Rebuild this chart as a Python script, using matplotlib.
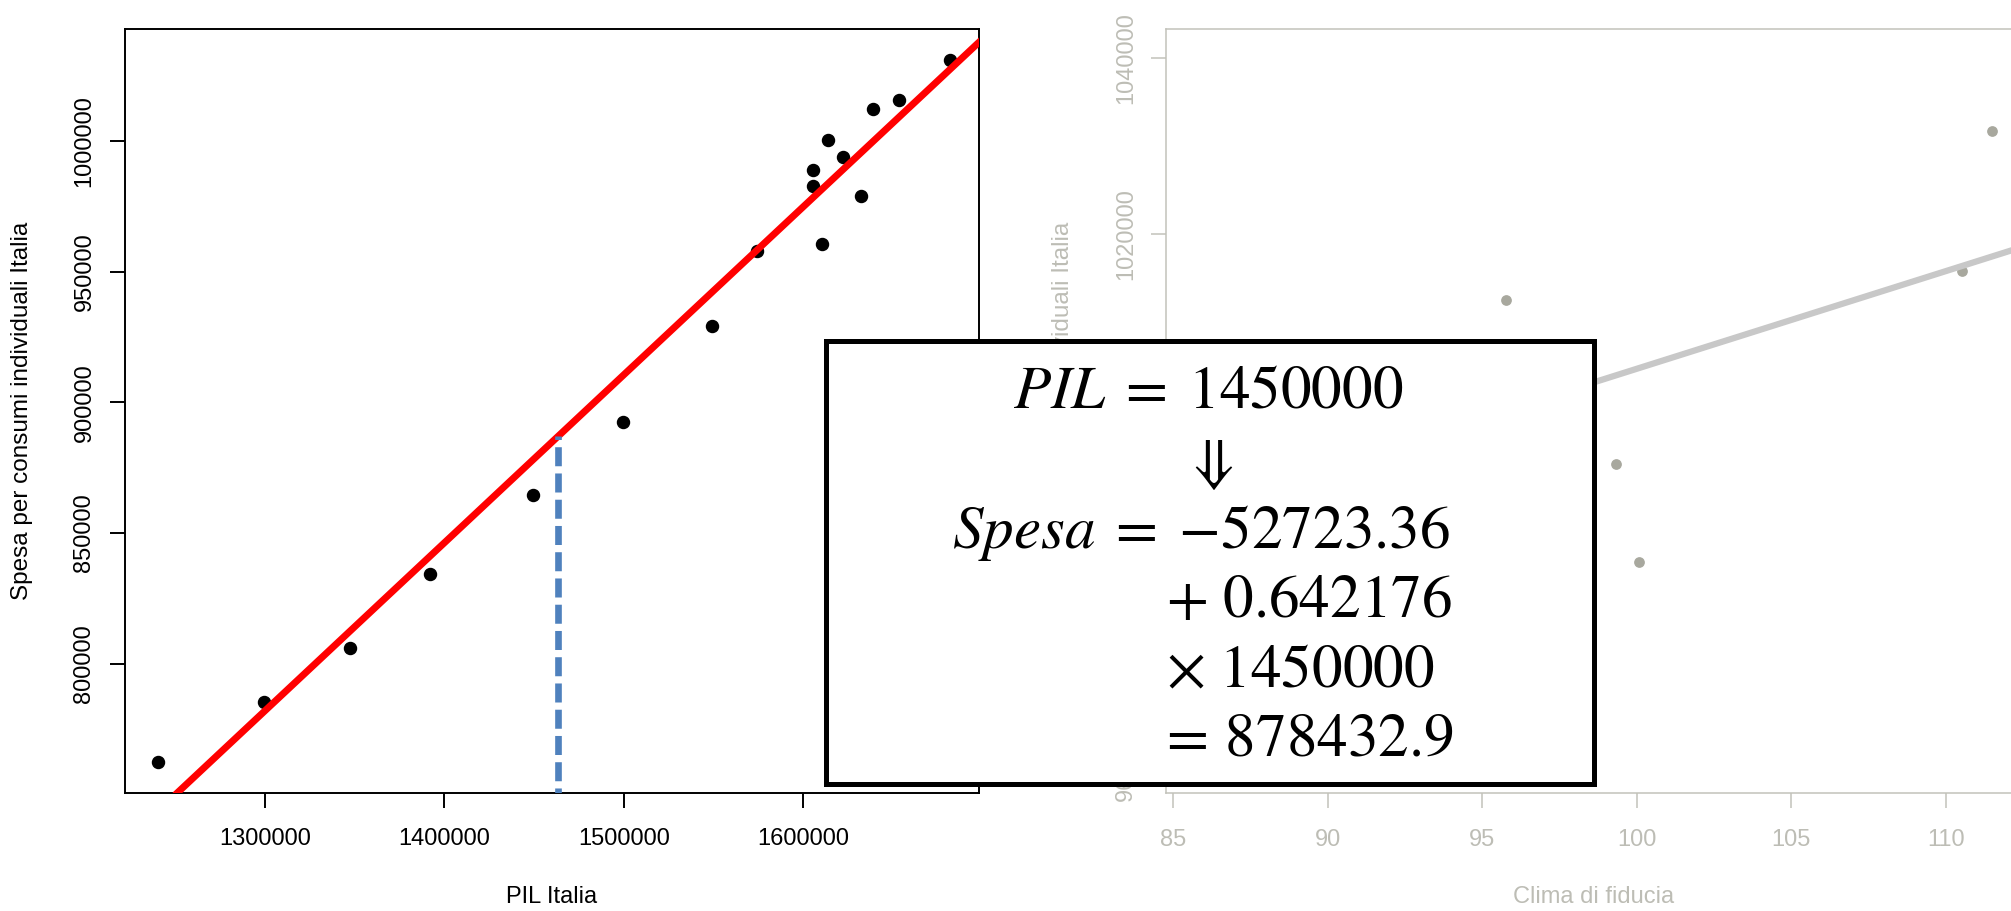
import matplotlib
matplotlib.use('Agg')
import matplotlib.pyplot as plt
from matplotlib.patches import Rectangle

# DATA
pil_italia = [1240633, 1299645, 1347280, 1392073, 1449307, 1499431, 1549200,
              1574084, 1605368, 1605368, 1610345, 1613544, 1622076, 1632385,
              1638784, 1653359, 1681799]
spesa_italia = [762348, 785382, 806202, 834330, 864452, 892359, 929347,
                957697, 988704, 982724, 960576, 1000443, 993798, 978738,
                1012182, 1015504, 1031008]

# regression from the box
intercept = -52723.36
slope = 0.642176
pil_value = 1450000
spesa_pred = 878432.9
dashed_x = 1463500   # where the blue marker is actually drawn

# faded chart behind (clima di fiducia)
clima = [95.77, 99.31, 100.06, 110.54, 111.51]
spesa_clima = [1012517, 993841, 982715, 1015828, 1031656]
clima_intercept = 893726
clima_slope = 1109.6

x_ticks_left = [1300000, 1400000, 1500000, 1600000]
y_ticks_left = [800000, 850000, 900000, 950000, 1000000]
x_ticks_right = [85, 90, 95, 100, 105, 110]
y_ticks_right = [960000, 980000, 1000000, 1020000, 1040000]

W, H = 2011, 911
plt.rcParams['font.family'] = ['Liberation Sans', 'DejaVu Sans']
plt.rcParams['mathtext.fontset'] = 'stix'
plt.rcParams['lines.scale_dashes'] = False

fig = plt.figure(figsize=(W / 100, H / 100), dpi=100)
fig.patch.set_facecolor('white')


def px_box(left, top, right, bottom):
    return [left / W, 1 - bottom / H, (right - left) / W, (bottom - top) / H]


def r_style(ax, color, lw):
    for s in ax.spines.values():
        s.set_color(color)
        s.set_linewidth(lw)
    ax.tick_params(direction='out', length=10.6, width=lw, color=color,
                   labelcolor=color, labelsize=17)
    ax.tick_params(axis='x', pad=15)
    ax.tick_params(axis='y', pad=10.5, labelrotation=90)
    for lab in ax.get_yticklabels():
        lab.set_va('center')


# LEFT: PIL vs SPESA
ax1 = fig.add_axes(px_box(124.7, 29.3, 979.3, 792.7))
ax1.scatter(pil_italia, spesa_italia, s=75, color='black', zorder=2)
ax1.axline((0, intercept), slope=slope, color='#ff0000', lw=5, zorder=3)
ax1.plot([dashed_x, dashed_x], [700000, intercept + slope * dashed_x],
         color='#4f81bd', lw=4.8, dashes=(13.7, 5.2), zorder=4,
         solid_capstyle='butt', dash_capstyle='butt')
ax1.set_xlim(1221795, 1698105)
ax1.set_ylim(750765, 1042584)
ax1.set_xticks(x_ticks_left)
ax1.set_yticks(y_ticks_left)
ax1.set_xticklabels([str(v) for v in x_ticks_left])
ax1.set_yticklabels([str(v) for v in y_ticks_left])
r_style(ax1, 'black', 1.4)
ax1.set_xlabel('PIL Italia', fontsize=17)
ax1.set_ylabel('Spesa per consumi individuali Italia', fontsize=17.5)
ax1.xaxis.set_label_coords(0.5, -(886 - 792.7) / 763.4)
ax1.yaxis.set_label_coords(-(124.7 - 33) / 854.6, 0.5)

# RIGHT: faded chart
grey_axis = '#c2c2ba'
grey_text = '#bdbdb5'
ax2 = fig.add_axes(px_box(1166.3, 29.3, 2011, 793.3))
ax2.scatter(clima, spesa_clima, s=45, color='#a8a89e', zorder=2)
ax2.axline((0, clima_intercept), slope=clima_slope, color='#c8c8c8', lw=4.5, zorder=3)
ax2.set_xlim(84.77, 112.11)
ax2.set_ylim(956443, 1043261)
ax2.set_xticks(x_ticks_right)
ax2.set_yticks(y_ticks_right)
ax2.set_xticklabels([str(v) for v in x_ticks_right])
ax2.set_yticklabels([str(v) for v in y_ticks_right])
r_style(ax2, grey_axis, 1.1)
ax2.tick_params(labelcolor=grey_text)
ax2.spines['right'].set_visible(False)
ax2.set_xlabel('Clima di fiducia', fontsize=17, color=grey_text)
ax2.set_ylabel('Spesa per consumi individuali Italia', fontsize=17.5, color=grey_text)
ax2.xaxis.set_label_coords((1593.7 - 1166.3) / 844.7, -(886 - 793.3) / 764.0)
ax2.yaxis.set_label_coords(-(1166.3 - 1074.5) / 844.7, 0.5)

# BOX WITH THE PREDICTION
fig.add_artist(Rectangle((825.7 / W, 1 - 784 / H), (1594 - 825.7) / W, (784 - 341) / H,
                         transform=fig.transFigure, facecolor='white',
                         edgecolor='black', lw=3.6, zorder=10))

eq_size = 44
def put(x, y, s, ha):
    fig.text(x / W, 1 - y / H, s, ha=ha, va='baseline', fontsize=eq_size, zorder=11)

put(1208, 408, r'$PIL\;=\;%d$' % pil_value, 'center')
put(1209.5, 480, r'$\Downarrow$', 'center')
put(952, 548, r'$Spesa\;=\;{-}%.2f$' % abs(intercept), 'left')
put(1166, 617, r'$+\ %s$' % slope, 'left')
put(1166, 687, r'$\times\ %d$' % pil_value, 'left')
put(1158, 755, r'$=\,%s$' % spesa_pred, 'left')

fig.savefig('out.png', dpi=100)
